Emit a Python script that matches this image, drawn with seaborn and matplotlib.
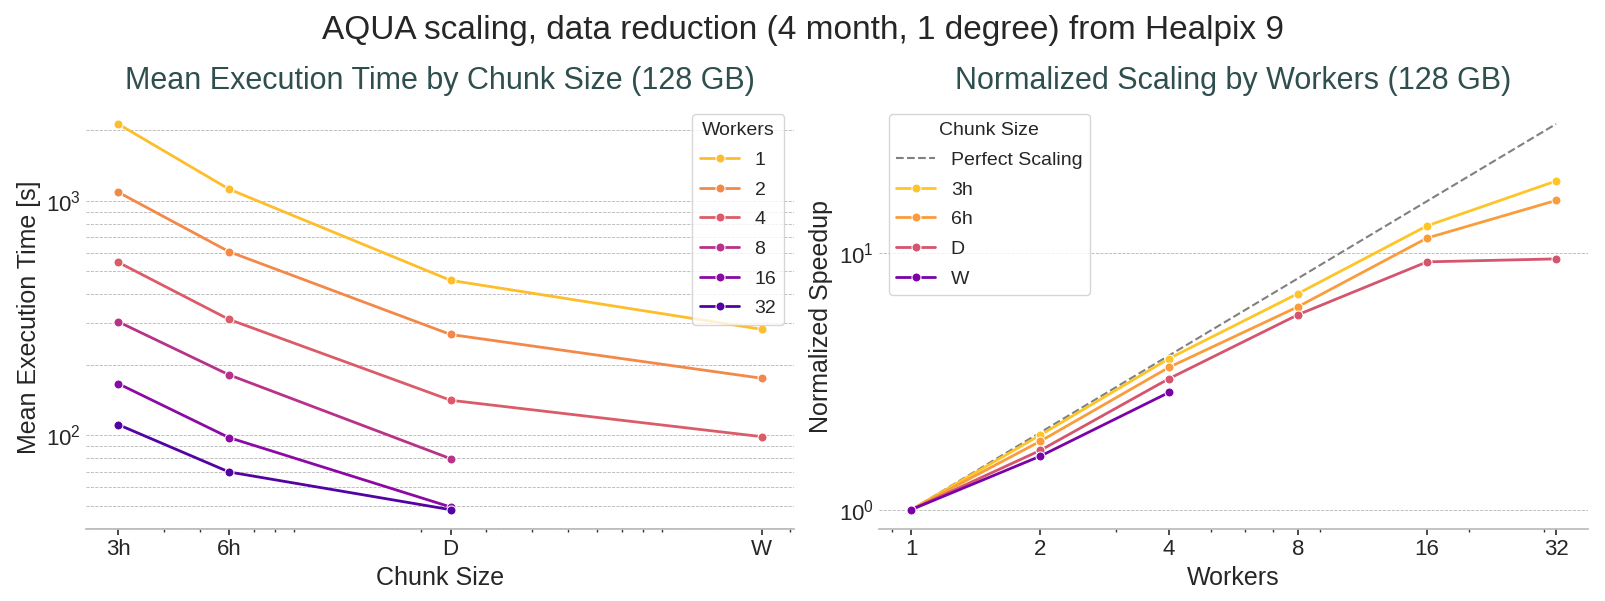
"""AQUA scaling: execution time by chunk size and speedup by workers"""

import matplotlib
matplotlib.use('Agg')
import matplotlib.pyplot as plt
from matplotlib.ticker import NullFormatter
import pandas as pd
import seaborn as sns

chunk_labels = ['3h', '6h', 'D', 'W']
chunk_hours = [3, 6, 24, 168]
workers = [1, 2, 4, 8, 16, 32]

# mean execution time [s] per worker count, in chunk order (None = not run)
time_w1 = [2128, 1122, 458, 283]
time_w2 = [1089, 607, 269, 175]
time_w4 = [547, 312, 141, 98.6]
time_w8 = [305, 181, 79.4, None]
time_w16 = [166, 97.7, 49.4, None]
time_w32 = [111, 69.7, 48.1, None]
times = [time_w1, time_w2, time_w4, time_w8, time_w16, time_w32]

# long table for seaborn
rows = []
for w, row in zip(workers, times):
    for label, hours, t in zip(chunk_labels, chunk_hours, row):
        if t is not None:
            rows.append({'Workers': str(w), 'workers_n': w, 'Chunk': label,
                         'hours': hours, 'time': t})
df = pd.DataFrame(rows)
# speedup relative to the single worker run of the same chunk size
base = df[df['workers_n'] == 1].set_index('Chunk')['time']
df['speedup'] = base.loc[df['Chunk']].values / df['time']

sns.set_theme(style='ticks')
plt.rcParams['font.family'] = ['Liberation Sans', 'DejaVu Sans']

worker_palette = sns.color_palette('plasma_r', len(workers))
# chunk colours follow plasma along log(hours)
chunk_palette = [plt.cm.plasma(v) for v in (0.875, 0.77, 0.545, 0.24)]

fig, (ax1, ax2) = plt.subplots(1, 2, figsize=(16.05, 6.01), dpi=100)
ax1.set_position([0.0536, 0.1198, 0.441, 0.706])
ax2.set_position([0.5476, 0.1198, 0.442, 0.706])

grid_kw = dict(axis='y', linestyle='--', linewidth=0.6, color='#b5b5b5')
line_kw = dict(marker='o', markersize=6.5, linewidth=2)
legend_kw = dict(fontsize=14, title_fontsize=14, edgecolor='#cccccc',
                 labelspacing=0.62)

# left: time vs chunk size
sns.lineplot(data=df, x='hours', y='time', hue='Workers',
             hue_order=[str(w) for w in workers], palette=worker_palette,
             ax=ax1, **line_kw)
ax1.set_xscale('log')
ax1.set_yscale('log')
ax1.set_xticks(chunk_hours, chunk_labels)
ax1.xaxis.set_minor_formatter(NullFormatter())
ax1.grid(which='both', **grid_kw)
ax1.set_title('Mean Execution Time by Chunk Size (128 GB)',
              fontsize=22, color='#2f4f4f', pad=11)
ax1.set_xlabel('Chunk Size', fontsize=18)
ax1.set_ylabel('Mean Execution Time [s]', fontsize=18)
ax1.legend(title='Workers', loc='upper right', **legend_kw)

# right: normalized speedup vs workers
sns.lineplot(x=workers, y=workers, color='gray', linestyle='--',
             linewidth=1.5, label='Perfect Scaling', ax=ax2)
sns.lineplot(data=df, x='workers_n', y='speedup', hue='Chunk',
             hue_order=chunk_labels, palette=chunk_palette,
             ax=ax2, **line_kw)
ax2.set_xscale('log')
ax2.set_yscale('log')
ax2.set_xticks(workers, [str(w) for w in workers])
ax2.xaxis.set_minor_formatter(NullFormatter())
ax2.grid(which='major', **grid_kw)
ax2.set_title('Normalized Scaling by Workers (128 GB)',
              fontsize=22, color='#2f4f4f', pad=11)
ax2.set_xlabel('Workers', fontsize=18)
ax2.set_ylabel('Normalized Speedup', fontsize=18)
ax2.legend(title='Chunk Size', loc='upper left', **legend_kw)

for ax in (ax1, ax2):
    sns.despine(ax=ax, left=True)
    ax.spines['bottom'].set_color('#bbbbbb')
    ax.tick_params(axis='y', which='both', length=0, labelsize=16)
    ax.tick_params(axis='x', which='major', length=4, labelsize=16,
                   color='#333333')
    ax.tick_params(axis='x', which='minor', length=2.5, color='#333333')

fig.suptitle('AQUA scaling, data reduction (4 month, 1 degree) from Healpix 9',
             fontsize=24, x=0.5, y=0.949, va='center')

fig.savefig('out.png', dpi=100)
